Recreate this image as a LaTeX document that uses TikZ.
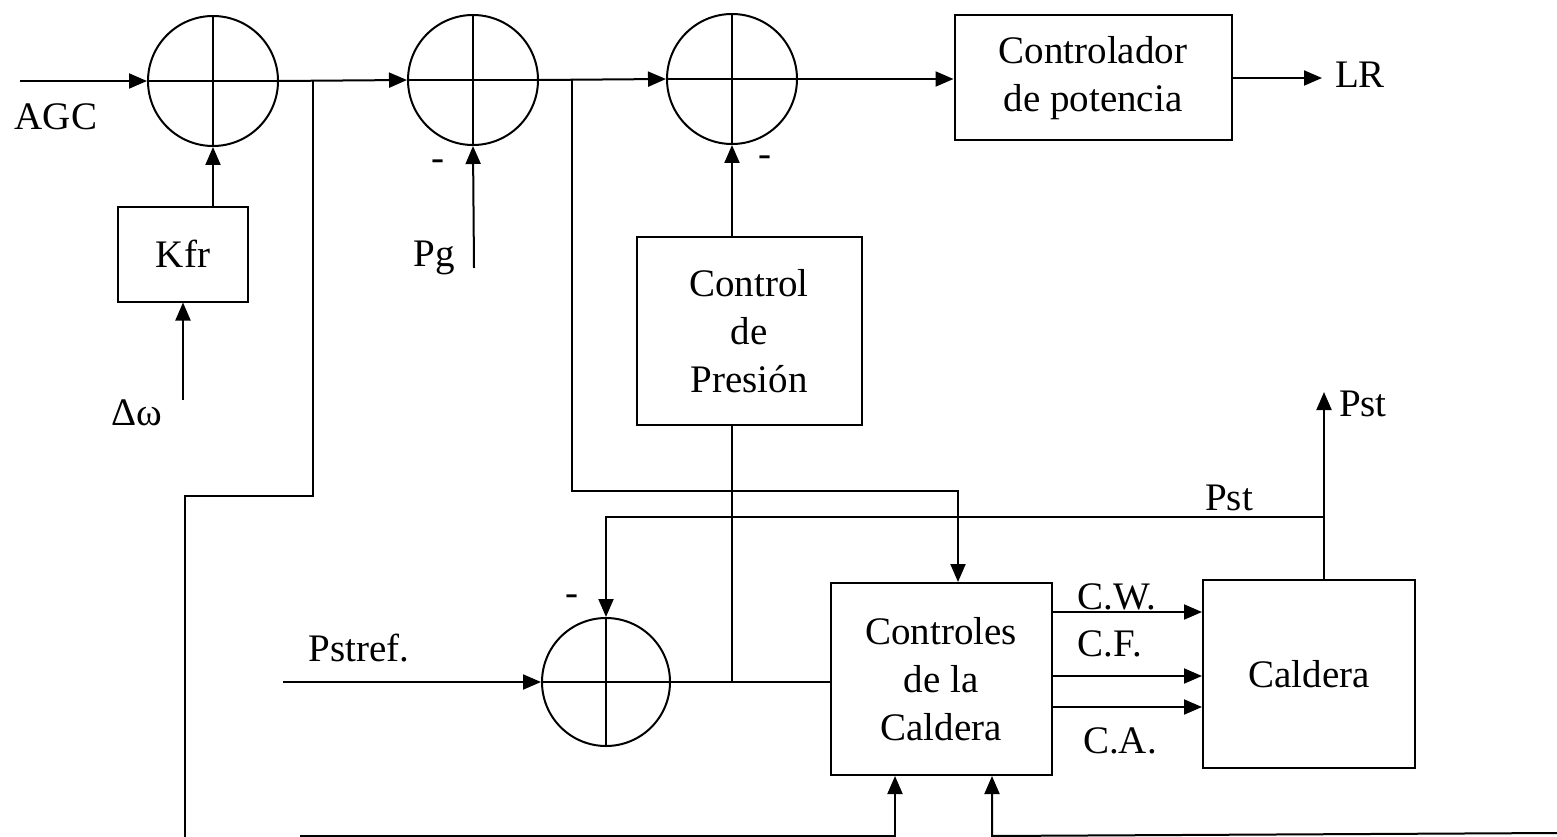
\documentclass[tikz,border=0pt]{standalone}
\usepackage{fontspec}
\setmainfont{Liberation Serif}
\usetikzlibrary{arrows.meta,positioning}

\begin{document}
\begin{tikzpicture}[x=1pt, y=-1pt, line width=2pt,
    >={Triangle[length=18pt,width=15pt]},
    block/.style={draw, rectangle, align=center, inner sep=0pt, font=\fontsize{39}{48}\selectfont},
    sum/.style={draw, circle, minimum size=130pt, inner sep=0pt,
        path picture={\draw (path picture bounding box.north) -- (path picture bounding box.south)
                            (path picture bounding box.west) -- (path picture bounding box.east);}},
    lbl/.style={inner sep=0pt, font=\fontsize{39}{48}\selectfont}]
    \useasboundingbox (0,0) rectangle (1557,837);

    % Nodes
    \node[sum] (s1) at (213,81) {};
    \node[sum] (s2) at (473,80) {};
    \node[sum] (s3) at (732,79) {};
    \node[sum, minimum size=128pt] (s4) at (606,682) {};
    \node[block, minimum width=130pt, minimum height=95pt] (kfr) at (183,254) {Kfr};
    \node[block, minimum width=225pt, minimum height=188pt] (cp) at (749,331) {Control\\de\\Presión};
    \node[block, minimum width=277pt, minimum height=125pt] (pot) at (1093,78) {Controlador\\de potencia};
    \node[block, minimum width=221pt, minimum height=192pt] (cc) at (941,679) {Controles\\de la\\Caldera};
    \node[block, minimum width=212pt, minimum height=188pt] (cal) at (1309,674) {Caldera};

    % Free ends and branch points
    \coordinate (agcin) at (20,81);
    \coordinate (dwin) at (183,400);
    \coordinate (pgin) at (474,268);
    \coordinate (ja) at (313,81);
    \coordinate (ja2) at (313,496);
    \coordinate (ja3) at (185,496);
    \coordinate (ja4) at (185,837);
    \coordinate (jb) at (572,80);
    \coordinate (jb2) at (572,491);
    \coordinate (jb3) at (958,491);
    \coordinate (lrout) at (1322,75);
    \coordinate (pstout) at (1324,392);
    \coordinate (jp) at (1324,517);
    \coordinate (prefin) at (283,682);
    \coordinate (bl) at (300,836);
    \coordinate (bm) at (895,836);
    \coordinate (br) at (992,836);
    \coordinate (bend) at (1557,833);

    % Labels
    \node[lbl] (agc) at (56,117) {AGC};
    \node[lbl] (dw) at (137,413) {Δω};
    \node[lbl] (pg) at (434,258) {Pg};
    \node[lbl, right=12pt of lrout] (lr) {LR};
    \node[lbl, right=14pt of pstout, yshift=-12pt] (pst) {Pst};
    \node[lbl] (pstfb) at (1229,498) {Pst};
    \node[lbl] (pref) at (359,648) {Pstref.};
    \node[lbl] (cw) at (1117,597) {C.W.};
    \node[lbl] (cf) at (1110,644) {C.F.};
    \node[lbl] (ca) at (1120,741) {C.A.};
    \node[lbl] (m2) at (438,165) {-};
    \node[lbl] (m3) at (765,161) {-};
    \node[lbl] (m4) at (572,600) {-};

    % Arrows
    \draw[->] (agcin) -- (s1.west);
    \draw[->] (dwin) -- (kfr.south);
    \draw[->] (s1.south |- kfr.north) -- (s1.south);
    \draw[->] (s1.east) -- (s2.west);
    \draw[->] (pgin) -- (s2.south);
    \draw[->] (s2.east) -- (s3.west);
    \draw[->] (s3 |- cp.north) -- (s3.south);
    \draw[->] (s3.east) -- (s3.east -| pot.west);
    \draw[->] (pot.east) -- (pot.east -| lrout);
    \draw (ja) -- (ja2) -- (ja3) -- (ja4);
    \draw[->] (jb) -- (jb2) -- (jb3) -- (jb3 |- cc.north);
    \draw (s3 |- cp.south) -- (s3 |- s4);
    \draw[->] (prefin) -- (s4.west);
    \draw (s4.east) -- (s4 -| cc.west);
    \draw[->] (cal.north -| jp) -- (pstout);
    \draw[->] (jp) -| (s4.north);
    \draw[->] (cc.east |- 0,612) -- (cal.west |- 0,612);
    \draw[->] (cc.east |- 0,676) -- (cal.west |- 0,676);
    \draw[->] (cc.east |- 0,707) -- (cal.west |- 0,707);
    \draw[->] (bl) -- (bm) -- (bm |- cc.south);
    \draw[->] (bend) -- (br) -- (br |- cc.south);
\end{tikzpicture}
\end{document}
